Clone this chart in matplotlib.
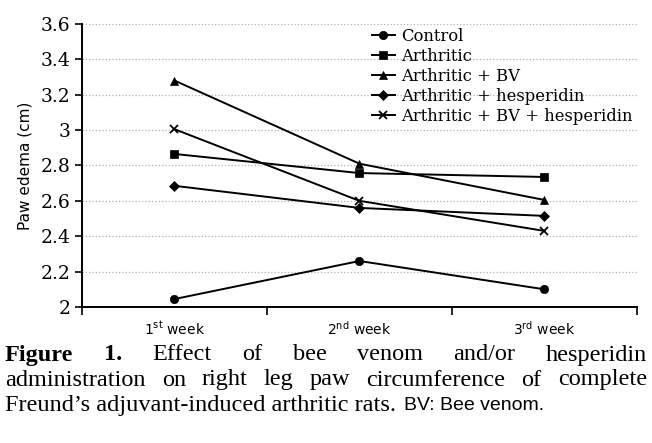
import matplotlib
matplotlib.use("Agg")
import matplotlib.pyplot as plt
from matplotlib.ticker import FuncFormatter

weeks = [r'1$^{\mathrm{st}}$ week', r'2$^{\mathrm{nd}}$ week', r'3$^{\mathrm{rd}}$ week']
control = [2.045, 2.26, 2.10]
arthritic = [2.865, 2.757, 2.735]
arth_bv = [3.28, 2.81, 2.605]
arth_hesp = [2.685, 2.56, 2.515]
arth_bv_hesp = [3.005, 2.60, 2.43]

series = [
    ("Control", control, "o"),
    ("Arthritic", arthritic, "s"),
    ("Arthritic + BV", arth_bv, "^"),
    ("Arthritic + hesperidin", arth_hesp, "D"),
    ("Arthritic + BV + hesperidin", arth_bv_hesp, "x"),
]

plt.rcParams['mathtext.fontset'] = 'dejavusans'

fig = plt.figure(figsize=(6.52, 4.43), dpi=100)
ax = fig.add_axes([0.1258, 0.307, 0.851, 0.639])

x = list(range(len(weeks)))
for name, vals, m in series:
    ms = 5.5 if m == "D" else 6
    ax.plot(x, vals, color="black", lw=1.4, marker=m, markersize=ms,
            markeredgewidth=1.3 if m == "x" else 0.5, label=name)

ax.set_xlim(-0.5, 2.5)
ax.set_ylim(2, 3.6)
ax.set_yticks([2 + 0.2 * i for i in range(9)])
ax.yaxis.set_major_formatter(FuncFormatter(lambda v, p: "%g" % round(v, 1)))
ax.set_xticks(x)
ax.set_xticklabels(weeks, fontsize=10, family="DejaVu Sans")
ax.set_xticks([-0.5, 0.5, 1.5, 2.5], minor=True)
ax.tick_params(axis="x", which="major", length=0, pad=9)
ax.tick_params(axis="x", which="minor", length=6, width=1.2, direction="out")
ax.tick_params(axis="y", length=5, width=1.2, direction="out", labelsize=13.5)
for lab in ax.get_yticklabels():
    lab.set_family("DejaVu Serif")
ax.set_ylabel("Paw edema (cm)", fontsize=11, family="DejaVu Sans", labelpad=6)

ax.grid(axis="y", color="#b0b0b0", linestyle=":", lw=0.9)
ax.set_axisbelow(True)
for s in ["top", "right"]:
    ax.spines[s].set_visible(False)
for s in ["left", "bottom"]:
    ax.spines[s].set_linewidth(1.4)

leg = ax.legend(loc="upper right", bbox_to_anchor=(1.01, 1.02), frameon=False,
                prop={"family": "DejaVu Serif", "size": 11.8}, handlelength=1.4,
                handletextpad=0.4, labelspacing=0.18, borderpad=0.1)

# caption, justified like the journal text
renderer = fig.canvas.get_renderer()
W = fig.bbox.width
H = fig.bbox.height


def justify(words, ypix, x0, x1, size):
    objs = []
    for w, bold in words:
        t = fig.text(0, 1 - ypix / H, w, fontsize=size, family="Liberation Serif",
                     weight="bold" if bold else "normal", va="center")
        objs.append(t)
    widths = [t.get_window_extent(renderer).width for t in objs]
    gap = (x1 - x0 - sum(widths)) / (len(objs) - 1)
    pos = x0
    for t, w in zip(objs, widths):
        t.set_x(pos / W)
        pos += w + gap


line1 = [("Figure", True), ("1.", True), ("Effect", False), ("of", False), ("bee", False),
         ("venom", False), ("and/or", False), ("hesperidin", False)]
line2 = [(w, False) for w in "administration on right leg paw circumference of complete".split()]
justify(line1, 355, 5, 647, 17.5)
justify(line2, 380, 5, 647, 17.5)
t3 = fig.text(5 / W, 1 - 405 / H, "Freund’s adjuvant-induced arthritic rats.", fontsize=17.5,
              family="Liberation Serif", va="center")
e = t3.get_window_extent(renderer)
fig.text((e.x1 + 8) / W, 1 - 406 / H, "BV: Bee venom.", fontsize=14,
         family="Liberation Sans", va="center")

fig.savefig("out.png", dpi=100)
